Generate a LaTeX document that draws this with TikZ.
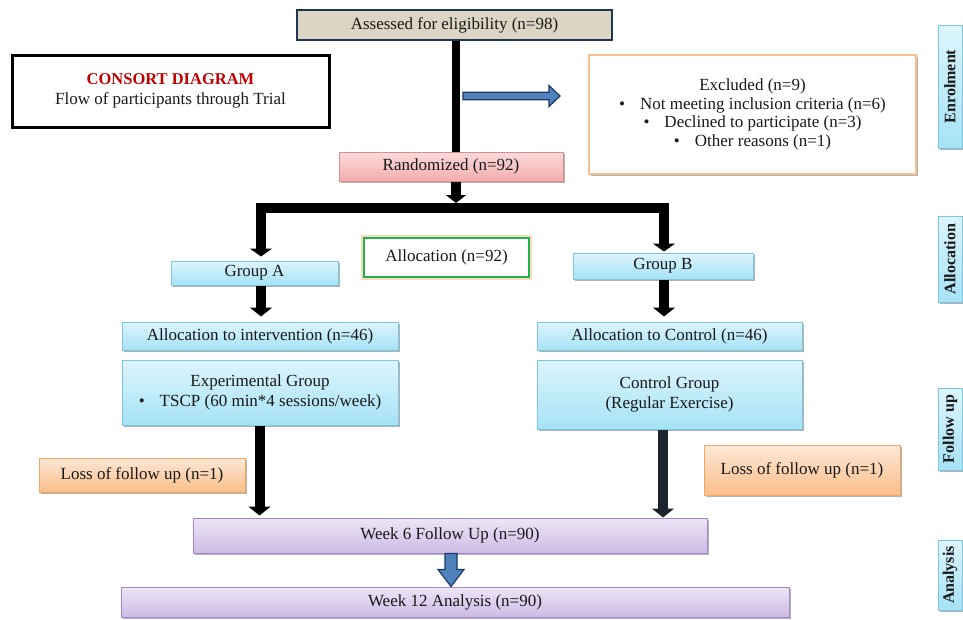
\documentclass[tikz,border=0pt]{standalone}
\usepackage{fontspec}
\setmainfont{Liberation Serif}
\usetikzlibrary{arrows.meta,shadows,calc}
\definecolor{beige}{HTML}{DDD5C4}
\definecolor{navyb}{HTML}{1F3550}
\definecolor{exclor}{HTML}{F9C08F}
\definecolor{consred}{HTML}{C00000}
\definecolor{blueA}{HTML}{4F81BD}
\definecolor{blueB}{HTML}{1F3864}
\definecolor{pinkT}{HTML}{FCDADA}
\definecolor{pinkB}{HTML}{F3ADAD}
\definecolor{pinkD}{HTML}{D98F8F}
\definecolor{cyanT}{HTML}{DDF5FD}
\definecolor{cyanB}{HTML}{A6E2F6}
\definecolor{cyanD}{HTML}{7CC6E0}
\definecolor{orT}{HTML}{FDE8D6}
\definecolor{orB}{HTML}{FBBE8A}
\definecolor{orD}{HTML}{F4A660}
\definecolor{puT}{HTML}{EEE6F7}
\definecolor{puB}{HTML}{CDBAE4}
\definecolor{puD}{HTML}{9F89C9}
\definecolor{grn}{HTML}{22B14C}
\definecolor{darkarr}{HTML}{1C2430}
\begin{document}
\begin{tikzpicture}[x=1pt,y=-1pt,
  font=\fontsize{17}{20}\selectfont,
  every node/.style={inner sep=2pt, align=center, text=black!90},
  shad/.style={drop shadow={shadow xshift=1.5pt,shadow yshift=-1.5pt,opacity=0.3,fill=black}},
  assbox/.style={draw=navyb, line width=2.5pt, fill=beige},
  consbox/.style={draw=black, line width=3pt, fill=white},
  exclbox/.style={draw=exclor, line width=2.5pt, fill=white, shad},
  pinkbox/.style={draw=pinkD, line width=1pt, top color=pinkT, bottom color=pinkB, shad},
  cyanbox/.style={draw=cyanD, line width=1pt, top color=cyanT, bottom color=cyanB, shad},
  orbox/.style={draw=orD, line width=1pt, top color=orT, bottom color=orB, shad},
  pubox/.style={draw=puD, line width=1pt, top color=puT, bottom color=puB, shad},
  allocbox/.style={draw=grn, line width=2.5pt, fill=white,
     preaction={draw=exclor, line width=6pt, opacity=0.6}},
  sidebox/.style={draw=cyanD, line width=1pt, top color=cyanT, bottom color=cyanB, shad,
     rotate=90, minimum height=24, font=\fontsize{16}{18}\selectfont\bfseries, inner sep=0pt},
  trunk/.style={line width=8pt, draw=black},
  flow/.style={line width=10pt, draw=black, -{Triangle[length=9pt,width=22pt]}},
  bararrow/.style={line width=10pt, draw=black, line join=miter,
     {Triangle[length=8pt,width=22pt]}-{Triangle[length=8pt,width=22pt]}},
  bluearr/.style={fill=blueA, draw=blueB, line width=1.2pt, line join=miter},
]
\useasboundingbox (0,0) rectangle (963,619);

% side labels
\node[sidebox, minimum width=123] (s1) at (950,86.5) {Enrolment};
\node[sidebox, minimum width=86] (s2) at (950,259) {Allocation};
\node[sidebox, minimum width=82] (s3) at (950,429) {Follow up};
\node[sidebox, minimum width=70] (s4) at (950,575) {Analysis};

% boxes
\node[assbox, minimum width=315, minimum height=30] (ass) at (454.5,25) {Assessed for eligibility (n=98)};
\node[consbox, minimum width=317, minimum height=72] (cons) at (170.5,91)
  {{\color{consred}\bfseries\fontsize{16.5}{20}\selectfont CONSORT DIAGRAM}\\ Flow of participants through Trial};
\node[exclbox, minimum width=327, minimum height=119, font=\fontsize{17}{18.8}\selectfont] (excl) at (752.5,114.5)
  {Excluded (n=9)\\
   \textbullet\hspace{15pt}Not meeting inclusion criteria (n=6)\\
   \textbullet\hspace{15pt}Declined to participate (n=3)\\
   \textbullet\hspace{15pt}Other reasons (n=1)};
\node[pinkbox, minimum width=224, minimum height=29] (rand) at (451,166.5) {Randomized (n=92)};
\node[allocbox, minimum width=165, minimum height=39] (alloc) at (446.5,257.5) {Allocation (n=92)};
\node[cyanbox, minimum width=167, minimum height=24] (ga) at (254.5,273) {Group A};
\node[cyanbox, minimum width=180, minimum height=26] (gb) at (663,266) {Group B};
\node[cyanbox, minimum width=276, minimum height=28] (ai) at (260,336) {Allocation to intervention (n=46)};
\node[cyanbox, minimum width=265, minimum height=28] (ac) at (669.5,336) {Allocation to Control (n=46)};
\node[cyanbox, minimum width=276, minimum height=65] (eg) at (260,392.5)
  {Experimental Group\\ \textbullet\hspace{15pt}TSCP (60 min*4 sessions/week)};
\node[cyanbox, minimum width=265, minimum height=69] (cg) at (669.5,394.5)
  {Control Group\\ (Regular Exercise)};
\node[orbox, minimum width=206, minimum height=34] (ll) at (142,475) {Loss of follow up (n=1)};
\node[orbox, minimum width=196, minimum height=50] (lr) at (802,470) {Loss of follow up (n=1)};
\node[pubox, minimum width=514, minimum height=35] (w6) at (450,535.5) {Week 6 Follow Up (n=90)};
\node[pubox, minimum width=668, minimum height=30] (w12) at (455,602) {Week 12 Analysis (n=90)};

% coordinates
\coordinate (tr) at (456,0);
\coordinate (barL) at (261,208);
\coordinate (barR) at (664,208);
\coordinate (b1) at (463,96);
\coordinate (xa) at (261,0);
\coordinate (xb) at (664,0);
\coordinate (xe) at (259.5,0);
\coordinate (xc) at (663,0);
\coordinate (xw) at (451,0);

% connectors
\draw[trunk] (tr |- ass.south) -- (tr |- rand.north);
\draw[flow, -{Triangle[length=8pt,width=20pt]}, shorten >=5pt] (tr |- rand.south) -- (tr |- barL);
\draw[bararrow, shorten <=4pt, shorten >=1pt] (barL |- ga.north) -- (barL) -- (barR) -- (barR |- gb.north);
\draw[flow, shorten >=5pt] (xa |- ga.south) -- (xa |- ai.north);
\draw[flow, shorten >=5pt] (xb |- gb.south) -- (xb |- ac.north);
\draw[flow, shorten >=2pt] (xe |- eg.south) -- (xe |- w6.north);
\draw[flow, draw=darkarr, fill=darkarr] (xc |- cg.south) -- (xc |- w6.north);

% blue arrows
\draw[bluearr] (b1) ++(0,-3.7) -- ++(86,0) -- ++(0,-6.8) -- ++(11,10.5) -- ++(-11,10.5) -- ++(0,-6.8) -- ++(-86,0) -- cycle;
\draw[bluearr] (xw |- w6.south) ++(-6,0) -- ++(0,16) -- ++(-7,0) -- ++(13,17) -- ++(13,-17) -- ++(-7,0) -- ++(0,-16) -- cycle;
\end{tikzpicture}
\end{document}
